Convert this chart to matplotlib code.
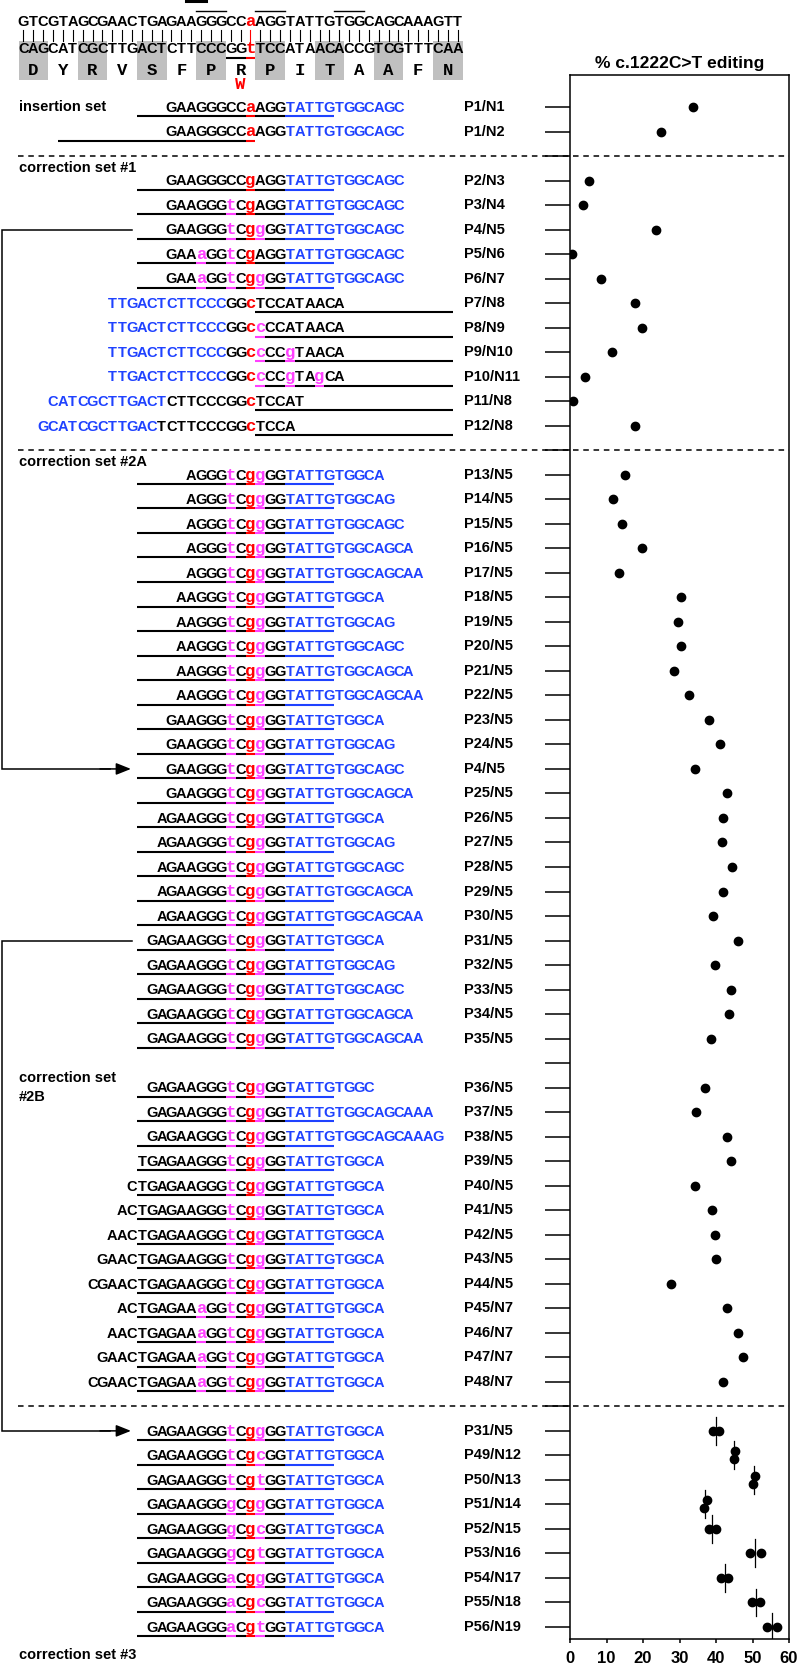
import matplotlib
matplotlib.use("Agg")
import matplotlib.pyplot as plt
from matplotlib.patches import Rectangle

plt.rcParams['font.family'] = ['Liberation Sans', 'DejaVu Sans']
plt.rcParams['lines.scale_dashes'] = False

# ---------------- data ----------------
top_strand = "GTCGTAGCGAACTGAGAAGGGCCaAGGTATTGTGGCAGCAAAGTT"
bottom_strand = "CAGCATCGCTTGACTCTTCCCGGtTCCATAACACCGTCGTTTCAA"
amino_acids = "DYRVSFPRPITAAFN"
mutant_aa = "W"
axis_title = "% c.1222C>T editing"
x_ticks = [0, 10, 20, 30, 40, 50, 60]

insertion_labels = ["P1/N1", "P1/N2"]
insertion_seqs = ["GAAGGGCCaAGG[TATTGTGGCAGC]", "GAAGGGCCaAGG[TATTGTGGCAGC]"]
insertion_values = [33.8, 24.8]

set1_labels = ["P2/N3", "P3/N4", "P4/N5", "P5/N6", "P6/N7", "P7/N8", "P8/N9",
               "P9/N10", "P10/N11", "P11/N8", "P12/N8"]
set1_seqs = [
    "GAAGGGCCgAGG[TATTGTGGCAGC]",
    "GAAGGGtCgAGG[TATTGTGGCAGC]",
    "GAAGGGtCggGG[TATTGTGGCAGC]",
    "GAAaGGtCgAGG[TATTGTGGCAGC]",
    "GAAaGGtCggGG[TATTGTGGCAGC]",
    "[TTGACTCTTCCC]GGcTCCATAACA",
    "[TTGACTCTTCCC]GGccCCATAACA",
    "[TTGACTCTTCCC]GGccCCgTAACA",
    "[TTGACTCTTCCC]GGccCCgTAgCA",
    "[CATCGCTTGACT]CTTCCCGGcTCCAT",
    "[GCATCGCTTGAC]TCTTCCCGGcTCCA",
]
set1_values = [5.1, 3.6, 23.6, 0.6, 8.5, 17.9, 19.7, 11.6, 4.2, 0.9, 17.7]

set2a_labels = ["P13/N5", "P14/N5", "P15/N5", "P16/N5", "P17/N5", "P18/N5", "P19/N5",
                "P20/N5", "P21/N5", "P22/N5", "P23/N5", "P24/N5", "P4/N5", "P25/N5",
                "P26/N5", "P27/N5", "P28/N5", "P29/N5", "P30/N5", "P31/N5", "P32/N5",
                "P33/N5", "P34/N5", "P35/N5"]
set2a_seqs = [
    "AGGGtCggGG[TATTGTGGCA]", "AGGGtCggGG[TATTGTGGCAG]", "AGGGtCggGG[TATTGTGGCAGC]",
    "AGGGtCggGG[TATTGTGGCAGCA]", "AGGGtCggGG[TATTGTGGCAGCAA]",
    "AAGGGtCggGG[TATTGTGGCA]", "AAGGGtCggGG[TATTGTGGCAG]", "AAGGGtCggGG[TATTGTGGCAGC]",
    "AAGGGtCggGG[TATTGTGGCAGCA]", "AAGGGtCggGG[TATTGTGGCAGCAA]",
    "GAAGGGtCggGG[TATTGTGGCA]", "GAAGGGtCggGG[TATTGTGGCAG]", "GAAGGGtCggGG[TATTGTGGCAGC]",
    "GAAGGGtCggGG[TATTGTGGCAGCA]",
    "AGAAGGGtCggGG[TATTGTGGCA]", "AGAAGGGtCggGG[TATTGTGGCAG]", "AGAAGGGtCggGG[TATTGTGGCAGC]",
    "AGAAGGGtCggGG[TATTGTGGCAGCA]", "AGAAGGGtCggGG[TATTGTGGCAGCAA]",
    "GAGAAGGGtCggGG[TATTGTGGCA]", "GAGAAGGGtCggGG[TATTGTGGCAG]", "GAGAAGGGtCggGG[TATTGTGGCAGC]",
    "GAGAAGGGtCggGG[TATTGTGGCAGCA]", "GAGAAGGGtCggGG[TATTGTGGCAGCAA]",
]
set2a_values = [15.2, 11.7, 14.3, 19.6, 13.5, 30.4, 29.6, 30.4, 28.4, 32.5, 38.0, 41.0,
                34.2, 43.0, 41.8, 41.6, 44.5, 41.8, 39.2, 45.9, 39.8, 44.2, 43.6, 38.6]

set2b_labels = ["P36/N5", "P37/N5", "P38/N5", "P39/N5", "P40/N5", "P41/N5", "P42/N5",
                "P43/N5", "P44/N5", "P45/N7", "P46/N7", "P47/N7", "P48/N7"]
set2b_seqs = [
    "GAGAAGGGtCggGG[TATTGTGGC]", "GAGAAGGGtCggGG[TATTGTGGCAGCAAA]",
    "GAGAAGGGtCggGG[TATTGTGGCAGCAAAG]",
    "TGAGAAGGGtCggGG[TATTGTGGCA]", "CTGAGAAGGGtCggGG[TATTGTGGCA]",
    "ACTGAGAAGGGtCggGG[TATTGTGGCA]", "AACTGAGAAGGGtCggGG[TATTGTGGCA]",
    "GAACTGAGAAGGGtCggGG[TATTGTGGCA]", "CGAACTGAGAAGGGtCggGG[TATTGTGGCA]",
    "ACTGAGAAaGGtCggGG[TATTGTGGCA]", "AACTGAGAAaGGtCggGG[TATTGTGGCA]",
    "GAACTGAGAAaGGtCggGG[TATTGTGGCA]", "CGAACTGAGAAaGGtCggGG[TATTGTGGCA]",
]
set2b_values = [36.9, 34.5, 43.0, 44.2, 34.2, 38.9, 39.8, 40.1, 27.8, 43.0, 45.9, 47.4, 41.8]

set3_labels = ["P31/N5", "P49/N12", "P50/N13", "P51/N14", "P52/N15", "P53/N16",
               "P54/N17", "P55/N18", "P56/N19"]
set3_seqs = [
    "GAGAAGGGtCggGG[TATTGTGGCA]", "GAGAAGGGtCgcGG[TATTGTGGCA]", "GAGAAGGGtCgtGG[TATTGTGGCA]",
    "GAGAAGGGgCggGG[TATTGTGGCA]", "GAGAAGGGgCgcGG[TATTGTGGCA]", "GAGAAGGGgCgtGG[TATTGTGGCA]",
    "GAGAAGGGaCggGG[TATTGTGGCA]", "GAGAAGGGaCgcGG[TATTGTGGCA]", "GAGAAGGGaCgtGG[TATTGTGGCA]",
]
set3_rep1 = [39.2, 45.3, 50.7, 37.4, 38.0, 49.2, 41.3, 49.9, 53.9]
set3_rep2 = [40.8, 44.8, 50.2, 36.7, 39.9, 52.3, 43.4, 52.1, 56.6]

section_titles = ["insertion set", "correction set #1", "correction set #2A",
                  "correction set\n#2B", "correction set #3"]

# ---------------- layout constants ----------------
W, H = 798, 1666
AX_L, AX_R, AX_T, AX_B = 570, 789, 75, 1639
Y0, Y_LAST = 107, 1627
X0, CW = 18.5, 9.87          # sequence grid
TARGET_COL = 23
FWD_SPAN, REV_SPAN = (12, 31), (24, 43)
span_override = {("ins", "P1/N2"): (4, 23)}
SANS, MONO = "Liberation Sans", "Liberation Mono"
RED, MAG, BLUE, GREY = "#ff0000", "#ff40ff", "#1f42ff", "#c0c0c0"
UP_SIZE, LO_SIZE, LAB_SIZE = 10.5, 12.5, 10.5

# ---------------- slots ----------------
slots = []
def add_section(name, labels, seqs, vals):
    for l, s, v in zip(labels, seqs, vals):
        slots.append(dict(kind="row", sec=name, label=l, seq=s, val=v))

add_section("ins", insertion_labels, insertion_seqs, insertion_values)
slots.append(dict(kind="dash"))
add_section("s1", set1_labels, set1_seqs, set1_values)
slots.append(dict(kind="dash"))
add_section("s2a", set2a_labels, set2a_seqs, set2a_values)
slots.append(dict(kind="blank"))
add_section("s2b", set2b_labels, set2b_seqs, set2b_values)
slots.append(dict(kind="dash"))
add_section("s3", set3_labels, set3_seqs, list(zip(set3_rep1, set3_rep2)))

n = len(slots)
DY = (Y_LAST - Y0) / (n - 1)
def sy(i):
    return Y0 + i * DY
def cl(c):
    return X0 + c * CW
def cc(c):
    return X0 + (c + 0.5) * CW

def first_slot(sec):
    return next(i for i, s in enumerate(slots) if s["kind"] == "row" and s["sec"] == sec)

# ---------------- figure ----------------
fig = plt.figure(figsize=(W / 100, H / 100), dpi=100)
ax = fig.add_axes([AX_L / W, 1 - AX_B / H, (AX_R - AX_L) / W, (AX_B - AX_T) / H])
ov = fig.add_axes([0, 0, 1, 1])
ov.set_xlim(0, W)
ov.set_ylim(H, 0)
ov.axis("off")
ov.patch.set_visible(False)

# ---- scatter panel ----
for i, s in enumerate(slots):
    if s["kind"] != "row":
        continue
    if s["sec"] != "s3":
        ax.plot([s["val"]], [i], "o", color="black", ms=6, mec="black")
    else:
        a, b = s["val"]
        if abs(a - b) < 1.0:
            off_a, off_b = (-0.165, 0.165) if a > b else (0.165, -0.165)
        else:
            off_a = off_b = 0.0
        ax.plot([a, b], [i + off_a, i + off_b], "o", color="black", ms=6, ls="none")
        m = (a + b) / 2
        ax.plot([m, m], [i - 0.57, i + 0.57], color="black", lw=0.9)

ax.set_xlim(0, 60)
ax.set_ylim((AX_B - Y0) / DY, (AX_T - Y0) / DY)
ax.set_xticks(x_ticks)
ax.set_xticklabels([str(t) for t in x_ticks], fontweight="bold", fontsize=12)
ax.set_yticks(range(n))
ax.set_yticklabels([])
ax.tick_params(axis="y", length=18, width=1.1, direction="out")
ax.tick_params(axis="x", length=3, width=1.1, direction="out", pad=5.5)
for sp in ax.spines.values():
    sp.set_linewidth(1.1)
ax.set_title(axis_title, fontsize=12.5, fontweight="bold", pad=5)

# ---- sequence helpers ----
def parse(markup):
    out, blue = [], False
    for ch in markup:
        if ch == "[":
            blue = True
        elif ch == "]":
            blue = False
        else:
            out.append((ch, blue))
    return out

def align(chars):
    best = (-1, 0, "top")
    for name, strand in (("top", top_strand), ("bottom", bottom_strand)):
        for off in range(-len(chars), len(strand)):
            sc = 0
            for k, (c, _) in enumerate(chars):
                j = off + k
                if c.isupper() and 0 <= j < len(strand) and strand[j] == c:
                    sc += 1
            if sc > best[0]:
                best = (sc, off, name)
    return best[1], best[2]

def char_color(c, blue, col):
    if c.islower():
        return RED if col == TARGET_COL else MAG
    return BLUE if blue else "black"

def draw_chars(chars, start, baseline):
    colors = {}
    for k, (c, blue) in enumerate(chars):
        col = start + k
        color = char_color(c, blue, col)
        colors[col] = color
        if c.islower():
            ov.text(cc(col), baseline, c, ha="center", va="baseline", color=color,
                    family=[MONO, "DejaVu Sans Mono"], fontweight="bold", fontsize=LO_SIZE)
        else:
            ov.text(cc(col), baseline, c, ha="center", va="baseline", color=color,
                    family=[SANS, "DejaVu Sans"], fontweight="bold", fontsize=UP_SIZE)
    return colors

def draw_line_cols(c0, c1, y, colors, lw=1.5):
    segs = []
    for col in range(c0, c1 + 1):
        color = colors.get(col, "black")
        if segs and segs[-1][2] == color and segs[-1][1] == col - 1:
            segs[-1][1] = col
        else:
            segs.append([col, col, color])
    for a, b, color in segs:
        ov.plot([cl(a), cl(b + 1)], [y, y], color=color, lw=lw, solid_capstyle="butt")

# ---- top reference block ----
top_chars = [(c, False) for c in top_strand]
bot_chars = [(c, False) for c in bottom_strand]
for k in range(len(amino_acids)):
    if k % 2 == 0:
        ov.add_patch(Rectangle((cl(3 * k), 41), 3 * CW, 39, facecolor=GREY, edgecolor="none", zorder=0))
draw_chars(top_chars, 0, 26)
draw_chars(bot_chars, 0, 53.3)
for col in range(len(top_strand)):
    ov.plot([cc(col), cc(col)], [29.5, 40.5], color=RED if col == TARGET_COL else "black", lw=0.8)
for a, b in [(18, 20), (24, 26), (32, 34)]:
    ov.plot([cl(a), cl(b + 1)], [10.7, 10.7], color="black", lw=1.0)
ov.plot([cl(17), cl(19)], [1.2, 1.2], color="black", lw=2.2)
draw_line_cols(21, 23, 58.3, {23: RED})
for k, aa in enumerate(amino_acids):
    ov.text(cc(3 * k + 1), 75, aa, ha="center", va="baseline", family=[MONO, "DejaVu Sans Mono"],
            fontweight="bold", fontsize=12.5)
ov.text(cc(3 * 7 + 1), 88.5, mutant_aa, ha="center", va="baseline", color=RED,
        family=[MONO, "DejaVu Sans Mono"], fontweight="bold", fontsize=12.5)

# ---- rows ----
for i, s in enumerate(slots):
    y = sy(i)
    if s["kind"] == "dash":
        ov.plot([18, AX_R], [y, y], color="black", lw=1.1, dashes=(4.0, 3.4))
        continue
    if s["kind"] != "row":
        continue
    chars = parse(s["seq"])
    start, strand = align(chars)
    colors = draw_chars(chars, start, y + 4.8)
    span = span_override.get((s["sec"], s["label"]), FWD_SPAN if strand == "top" else REV_SPAN)
    draw_line_cols(span[0], span[1], y + 9.2, colors)
    ov.text(464, y, s["label"], ha="left", va="center", fontweight="bold", fontsize=LAB_SIZE)

# ---- section titles ----
title_slots = [first_slot("ins"), first_slot("s1") - 0.5, first_slot("s2a") - 0.5,
               first_slot("s2b"), n + 0.15]
for t, ts in zip(section_titles, title_slots):
    ov.text(19, sy(ts), t, ha="left", va="center", fontweight="bold", fontsize=LAB_SIZE,
            linespacing=1.4)

# ---- connector arrows ----
def find(sec, label):
    return next(i for i, s in enumerate(slots)
                if s["kind"] == "row" and s["sec"] == sec and s["label"] == label)

for (sa, la), (sb, lb) in [(("s1", "P4/N5"), ("s2a", "P4/N5")),
                           (("s2a", "P31/N5"), ("s3", "P31/N5"))]:
    ya, yb = sy(find(sa, la)), sy(find(sb, lb))
    ov.plot([cl(12) - 5, 2, 2, 110], [ya, ya, yb, yb], color="black", lw=1.1,
            solid_joinstyle="miter")
    ov.annotate("", xy=(cl(12) - 6, yb), xytext=(100, yb),
                arrowprops=dict(arrowstyle="-|>,head_length=0.75,head_width=0.3",
                                color="black", lw=1.1, shrinkA=0, shrinkB=0,
                                mutation_scale=12))

fig.savefig("out.png", dpi=100)
